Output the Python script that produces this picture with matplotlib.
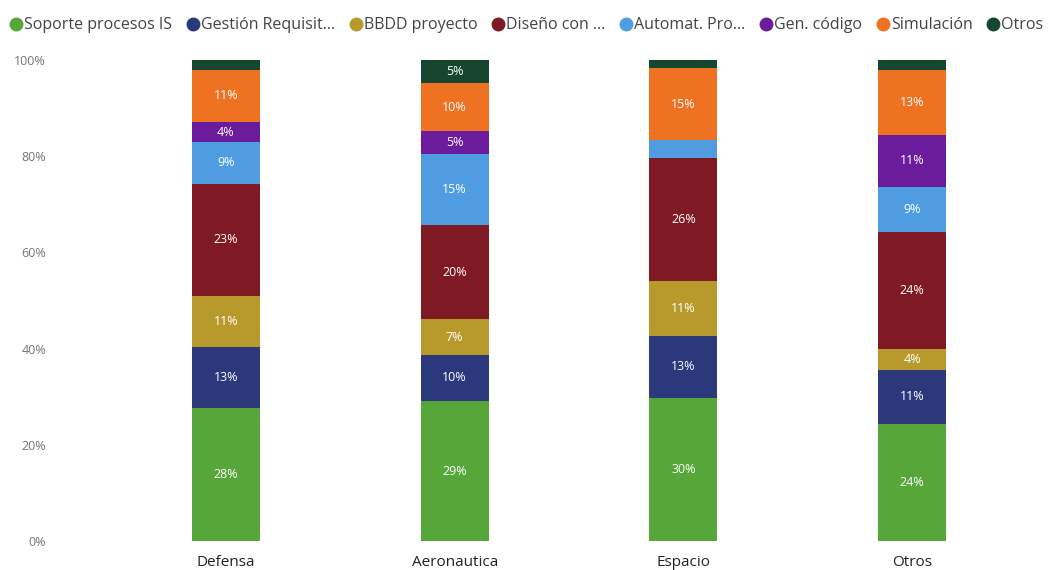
import numpy as np
import matplotlib
matplotlib.use("Agg")
import matplotlib.pyplot as plt
from matplotlib.lines import Line2D

plt.rcParams['font.family'] = ['Open Sans', 'DejaVu Sans']

categories = ["Defensa", "Aeronautica", "Espacio", "Otros"]

series_names = ["Soporte procesos IS", "Gestión Requisit...", "BBDD proyecto",
                "Diseño con ...", "Automat. Pro...", "Gen. código",
                "Simulación", "Otros"]

soporte = [27.7, 29.1, 29.8, 24.4]
gestion = [12.6, 9.6, 12.8, 11.1]
bbdd = [10.7, 7.4, 11.4, 4.4]
diseno = [23.3, 19.6, 25.6, 24.3]
automat = [8.6, 14.7, 3.8, 9.4]
gen_codigo = [4.2, 4.8, 0.0, 10.9]
simulacion = [10.9, 10.0, 14.9, 13.4]
otros = [2.0, 4.8, 1.7, 2.1]

colors = ["#57a639", "#2b387c", "#b8992c", "#7f1a24",
          "#4f9de0", "#6a1c9c", "#ee7222", "#16462f"]

data = np.array([soporte, gestion, bbdd, diseno, automat, gen_codigo,
                 simulacion, otros])
shares = data / data.sum(axis=0) * 100

fig = plt.figure(figsize=(10.57, 5.70), dpi=100)
ax = fig.add_axes([60 / 1057, 29 / 570, 980 / 1057, 481 / 570])

x = np.arange(len(categories))
bottom = np.zeros(len(categories))
for name, vals, col in zip(series_names, shares, colors):
    ax.bar(x, vals, bottom=bottom, width=0.297, color=col, label=name)
    for xi, b, v in zip(x, bottom, vals):
        if v >= 4:
            ax.text(xi, b + v / 2, f"{v:.0f}%", ha="center", va="center",
                    color="white", fontsize=9)
    bottom += vals

ax.set_xlim((60 - 226) / 228.7, (1040 - 226) / 228.7)
ax.set_ylim(0, 100)
ax.set_yticks(range(0, 101, 20))
ax.set_yticklabels([f"{t}%" for t in range(0, 101, 20)], color="#777777",
                   fontsize=9)
ax.set_xticks(x)
ax.set_xticklabels(categories, fontsize=11, color="#222222")
ax.tick_params(axis="both", length=0)
ax.tick_params(axis="y", pad=10)
ax.tick_params(axis="x", pad=10)
for s in ax.spines.values():
    s.set_visible(False)

# legend across the top, round markers
handles = [Line2D([], [], marker="o", linestyle="", markersize=9,
                  markerfacecolor=c, markeredgecolor=c) for c in colors]
fig.legend(handles, series_names, loc="upper left", bbox_to_anchor=(-0.006, 0.995),
           ncol=8, frameon=False, fontsize=11.5, handletextpad=0.0,
           columnspacing=0.8, handlelength=1.0, labelcolor="#444444")

fig.savefig("out.png", dpi=100)
